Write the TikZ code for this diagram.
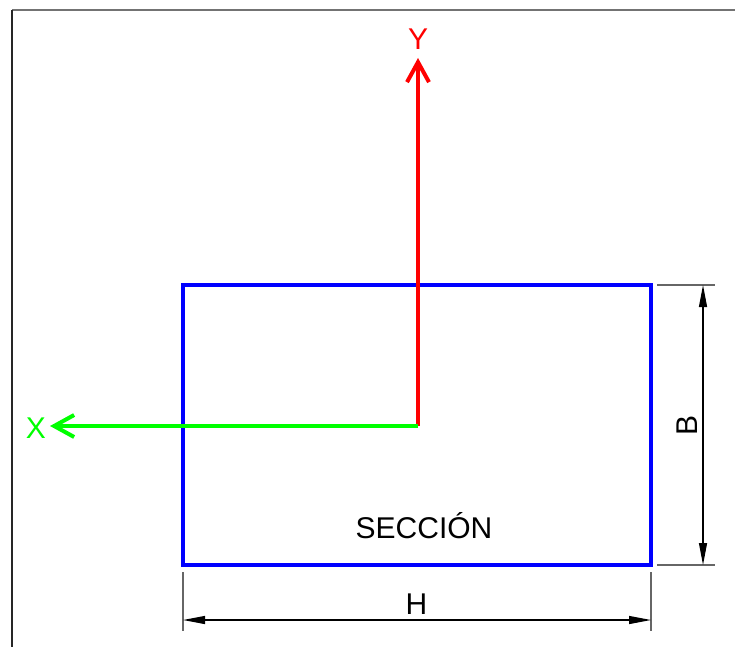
\documentclass[tikz,border=0pt]{standalone}
\usepackage{fontspec}
\setmainfont{Liberation Sans}
\usetikzlibrary{arrows.meta}
\tikzstyle{axisy} = [draw=red, line width=4pt, -{Straight Barb[length=20pt,width=22pt]}]
\tikzstyle{axisx} = [draw=green, line width=4pt, -{Straight Barb[length=20pt,width=22pt]}]
\tikzstyle{section} = [rectangle, draw=blue, line width=3.5pt, minimum width=468pt, minimum height=280pt, outer sep=0pt, inner sep=0pt]
\tikzstyle{extline} = [draw=black!60, line width=1.5pt]
\tikzstyle{dimline} = [draw=black, line width=1.2pt, {Triangle[length=22pt,width=8pt]}-{Triangle[length=22pt,width=8pt]}]
\tikzstyle{lbl} = [anchor=base, inner sep=0pt, font=\fontsize{30}{32}\selectfont]

\begin{document}
\begin{tikzpicture}[x=1pt, y=-1pt]
        \useasboundingbox (0,0) rectangle (735,647);
        % frame
        \draw [black!55, line width=1.5pt] (12,10) -- (735,10);
        \draw [black!85, line width=1.2pt] (12,10) -- (12,647);

        \node (sec) [section] at (417,425) {};
        \node (name) [lbl] at (424,538) {SECCIÓN};

        \coordinate (o) at (418,426);
        \coordinate (ytip) at (418,58);
        \coordinate (xtip) at (50,426);
        \node (ylbl) [lbl, text=red] at (418,50) {Y};
        \node (xlbl) [lbl, text=green] at (36,438) {X};
        \draw [axisy] (o) -- (ytip);
        \draw [axisx] (o) -- (xtip);

        % dimension H
        \coordinate (h1a) at (183,572);
        \coordinate (h1b) at (183,631);
        \coordinate (h2a) at (651,572);
        \coordinate (h2b) at (651,631);
        \coordinate (hl) at (183,620);
        \coordinate (hr) at (651,620);
        \draw [extline] (h1a) -- (h1b);
        \draw [extline] (h2a) -- (h2b);
        \draw [dimline] (hl) -- (hr);
        \node (hlbl) [lbl] at (416.5,614) {H};

        % dimension B
        \coordinate (b1a) at (657,285);
        \coordinate (b1b) at (715,285);
        \coordinate (b2a) at (657,565);
        \coordinate (b2b) at (715,565);
        \coordinate (bt) at (703,285);
        \coordinate (bb) at (703,565);
        \draw [extline] (b1a) -- (b1b);
        \draw [extline] (b2a) -- (b2b);
        \draw [dimline] (bt) -- (bb);
        \node (blbl) [lbl, rotate=90] at (697,425) {B};
    \end{tikzpicture}
\end{document}
